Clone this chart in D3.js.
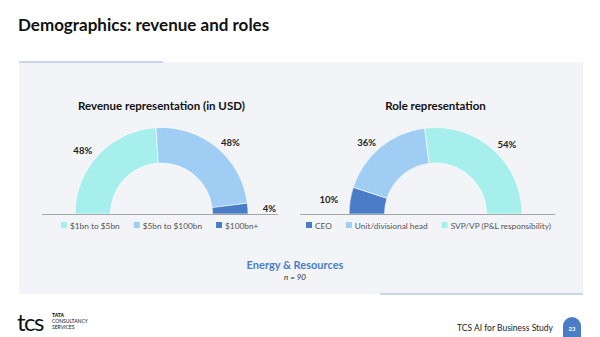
<!DOCTYPE html>
<html>
<head>
<meta charset="utf-8">
<script src="https://cdn.jsdelivr.net/npm/d3@7"></script>
<style>
  body { margin: 0; background: #fff; }
  svg { display: block; font-family: Lato, "Open Sans", sans-serif; }
</style>
</head>
<body>
<div id="chart"></div>
<script>
// Data
const revenueLabels = ["$1bn to $5bn", "$5bn to $100bn", "$100bn+"];
const revenueValues = [48, 48, 4];
const roleLabels = ["CEO", "Unit/divisional head", "SVP/VP (P&L responsibility)"];
const roleValues = [10, 36, 54];

const cyan = "#a6efec", light = "#9fcdf3", dark = "#4a7dc6";
const revenueColors = [cyan, light, dark];
const roleColors = [dark, light, cyan];

const width = 600, height = 337;

const svg = d3.select("#chart").append("svg")
  .attr("width", width)
  .attr("height", height);

// Titel
svg.append("text")
  .attr("x", 18).attr("y", 31)
  .style("font-size", "17px").style("font-weight", "bold")
  .attr("fill", "#111")
  .text("Demographics: revenue and roles");

// Panel
svg.append("rect")
  .attr("x", 19).attr("y", 62).attr("width", 564).attr("height", 232)
  .attr("fill", "#f2f4f8");
svg.append("line")
  .attr("x1", 19).attr("x2", 163).attr("y1", 62).attr("y2", 62)
  .attr("stroke", "#9bb3d6").attr("stroke-width", 1.2);
svg.append("line")
  .attr("x1", 380).attr("x2", 583).attr("y1", 294).attr("y2", 294)
  .attr("stroke", "#9bb3d6").attr("stroke-width", 1.2);

const outerR = 86.5, innerR = 51;
const labelRx = 108, labelRy = 92; // etiketter på en ellips runt bågen
const pie = d3.pie().sort(null).startAngle(-Math.PI / 2).endAngle(Math.PI / 2);
const arc = d3.arc().innerRadius(innerR).outerRadius(outerR);

function labelPos(d) {
  const a = (d.startAngle + d.endAngle) / 2;
  return [Math.sin(a) * labelRx, -Math.cos(a) * labelRy];
}

function drawHalfDonut(cx, cy, title, labels, values, colors, axisX, legendX) {
  const g = svg.append("g").attr("transform", `translate(${cx},${cy})`);

  svg.append("text")
    .attr("x", cx).attr("y", 110)
    .attr("text-anchor", "middle")
    .style("font-size", "11.5px").style("font-weight", "bold")
    .attr("fill", "#111")
    .text(title);

  const arcs = pie(values);
  g.selectAll("path.slice").data(arcs).join("path")
    .attr("class", "slice")
    .attr("d", arc)
    .attr("fill", (d, i) => colors[i])
    .attr("stroke", "#fff").attr("stroke-width", 0.6);

  // baslinje
  svg.append("line")
    .attr("x1", axisX[0]).attr("x2", axisX[1])
    .attr("y1", cy + 0.5).attr("y2", cy + 0.5)
    .attr("stroke", "#a6a6a6").attr("stroke-width", 1);

  g.selectAll("text.pct").data(arcs).join("text")
    .attr("class", "pct")
    .attr("transform", d => `translate(${labelPos(d)})`)
    .attr("text-anchor", "middle")
    .attr("dy", "0.35em")
    .style("font-size", "9.5px").style("font-weight", "bold")
    .attr("fill", "#222")
    .text(d => d.data + "%");

  // Legend
  let x = legendX;
  labels.forEach((lab, i) => {
    svg.append("rect")
      .attr("x", x).attr("y", 222).attr("width", 6).attr("height", 6)
      .attr("fill", colors[i]);
    const t = svg.append("text")
      .attr("x", x + 9).attr("y", 228.5)
      .style("font-size", "8.3px")
      .attr("fill", "#555")
      .text(lab);
    x += 9 + t.node().getComputedTextLength() + 14;
  });
}

drawHalfDonut(161.5, 214, "Revenue representation (in USD)", revenueLabels, revenueValues, revenueColors, [42, 278], 61);
drawHalfDonut(435.5, 214, "Role representation", roleLabels, roleValues, roleColors, [300, 555], 306);

svg.append("text")
  .attr("x", 295).attr("y", 269)
  .attr("text-anchor", "middle")
  .style("font-size", "11px").style("font-weight", "bold")
  .attr("fill", "#4a7dc6")
  .text("Energy & Resources");
svg.append("text")
  .attr("x", 295).attr("y", 280)
  .attr("text-anchor", "middle")
  .style("font-size", "8px").style("font-style", "italic")
  .attr("fill", "#333")
  .text("n = 90");

// Footer
svg.append("text")
  .attr("x", 17).attr("y", 331)
  .style("font-size", "24px").style("letter-spacing", "-1.5px")
  .attr("fill", "#111")
  .text("tcs");
const logo = svg.append("g").style("font-size", "5px").style("font-weight", "bold").attr("fill", "#111");
["TATA", "CONSULTANCY", "SERVICES"].forEach((s, i) => {
  logo.append("text").attr("x", 52).attr("y", 317 + i * 6).text(s)
    .style("font-weight", i === 0 ? "900" : "normal");
});

svg.append("text")
  .attr("x", 553).attr("y", 331)
  .attr("text-anchor", "end")
  .style("font-size", "8.5px")
  .attr("fill", "#222")
  .text("TCS AI for Business Study");

svg.append("path")
  .attr("d", "M563,337 L563,326 A9,9 0 0 1 581,326 L581,337 Z")
  .attr("fill", "#4a7dc6");
svg.append("text")
  .attr("x", 572).attr("y", 331)
  .attr("text-anchor", "middle")
  .style("font-size", "6px").style("font-weight", "bold")
  .attr("fill", "#fff")
  .text("23");
</script>
</body>
</html>
